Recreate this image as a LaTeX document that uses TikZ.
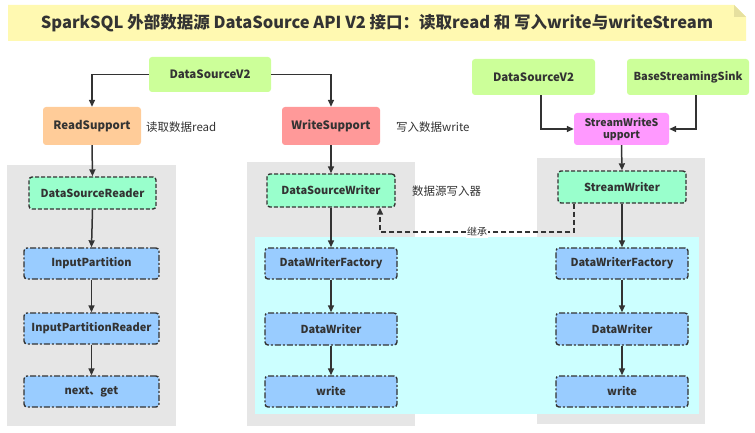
\documentclass[tikz,border=0pt]{standalone}
\usepackage{fontspec}
\setmainfont{Noto Sans CJK SC}
\usetikzlibrary{arrows.meta}
\definecolor{txt}{HTML}{333333}
\definecolor{lime}{HTML}{CCFF99}
\definecolor{orng}{HTML}{FFCC99}
\definecolor{pinkr}{HTML}{FF9999}
\definecolor{magen}{HTML}{FF99FF}
\definecolor{mint}{HTML}{99FFCC}
\definecolor{sky}{HTML}{99CCFF}
\definecolor{panel}{HTML}{E6E6E6}
\definecolor{cyanp}{HTML}{CCFFFF}
\definecolor{banner}{HTML}{FFF9B1}
\definecolor{fold}{HTML}{E6E09F}
\begin{document}
\begin{tikzpicture}[x=1pt,y=-1pt,
  every node/.style={text=txt, inner sep=0pt},
  solidbox/.style={rounded corners=3pt, font=\fontsize{11}{13}\selectfont\bfseries, align=center},
  dashbox/.style={rounded corners=3pt, draw=txt, line width=1.4pt, dash pattern=on 4pt off 2pt, fill=mint, font=\fontsize{11}{13}\selectfont\bfseries},
  dotbox/.style={rounded corners=3pt, draw=txt, line width=1.4pt, dash pattern=on 6pt off 2pt on 2pt off 2pt, fill=sky, font=\fontsize{11}{13}\selectfont\bfseries},
  arr/.style={draw=txt, line width=1.5pt, -{Triangle[length=7pt,width=6pt]}},
  inh/.style={draw=txt, line width=1.5pt, dash pattern=on 5pt off 3pt, -{Triangle[length=7pt,width=6pt]}},
  note/.style={anchor=west, font=\fontsize{11.5}{13}\selectfont}
]
\useasboundingbox (0,0) rectangle (755,433);
% title banner
\fill[banner] (8,5) -- (734,5) -- (746,17) -- (746,41) -- (8,41) -- cycle;
\fill[fold] (734,5) -- (734,17) -- (746,17) -- cycle;
\node[font=\fontsize{16.5}{19}\selectfont\bfseries] (title) at (377,23) {SparkSQL 外部数据源 DataSource API V2 接口：读取read 和 写入write与writeStream};
% panels
\fill[panel] (7,165) rectangle (176,426);
\fill[panel] (247,162) rectangle (415,426);
\fill[panel] (537,158) rectangle (705,424);
\fill[cyanp] (255,237) rectangle (699,414);
% top nodes
\node[solidbox, fill=lime, minimum width=122pt, minimum height=35pt, font=\fontsize{11.5}{13}\selectfont\bfseries] (dsv2) at (210,74.5) {DataSourceV2};
\node[solidbox, fill=orng, minimum width=98pt, minimum height=38pt, font=\fontsize{11.5}{13}\selectfont\bfseries] (rs) at (92,126) {ReadSupport};
\node[solidbox, fill=pinkr, minimum width=98pt, minimum height=38pt, font=\fontsize{11.5}{13}\selectfont\bfseries] (ws) at (331,126) {WriteSupport};
\node[solidbox, fill=lime, minimum width=123pt, minimum height=36pt, font=\fontsize{11.5}{13}\selectfont\bfseries] (dsv2b) at (533.5,77) {DataSourceV2};
\node[solidbox, fill=lime, minimum width=122pt, minimum height=36pt] (bss) at (688,77) {BaseStreamingSink};
\node[solidbox, fill=magen, minimum width=95pt, minimum height=32pt, font=\fontsize{10.5}{12.5}\selectfont\bfseries] (sws) at (621.5,129) {StreamWriteS\\upport};
\node[note] (lr) at (146,127) {读取数据read};
\node[note] (lw) at (396,127) {写入数据write};
\node[note] (lsw) at (412,191) {数据源写入器};
% read column
\node[dashbox, minimum width=127pt, minimum height=32pt] (dsr) at (92.5,193) {DataSourceReader};
\node[dotbox, minimum width=135pt, minimum height=31pt] (ip) at (91.5,263.5) {InputPartition};
\node[dotbox, minimum width=135pt, minimum height=31pt] (ipr) at (91.5,328.5) {InputPartitionReader};
\node[dotbox, minimum width=135pt, minimum height=31pt] (ng) at (91.5,391.5) {next、get};
% write column
\node[dashbox, minimum width=128pt, minimum height=33pt] (dsw) at (331,190.5) {DataSourceWriter};
\node[dotbox, minimum width=132pt, minimum height=31pt] (dwf1) at (331,263.5) {DataWriterFactory};
\node[dotbox, minimum width=132pt, minimum height=32pt] (dw1) at (331,329) {DataWriter};
\node[dotbox, minimum width=132pt, minimum height=31pt] (w1) at (331,391.5) {write};
% stream column
\node[dashbox, minimum width=128pt, minimum height=32pt] (sw) at (622,187) {StreamWriter};
\node[dotbox, minimum width=132pt, minimum height=31pt] (dwf2) at (622,263.5) {DataWriterFactory};
\node[dotbox, minimum width=132pt, minimum height=32pt] (dw2) at (622,329) {DataWriter};
\node[dotbox, minimum width=132pt, minimum height=31pt] (w2) at (622,391.5) {write};
% connectors
\draw[arr] (dsv2.west) -| (rs.north);
\draw[arr] (dsv2.east) -| (ws.north);
\draw[arr] ([xshift=7.5pt]dsv2b.south) |- (sws.west);
\draw[arr] ([xshift=8pt]bss.south) |- (sws.east);
\draw[arr] (sws.south) -- (sw.north);
\draw[arr] (rs.south) -- (dsr.north);
\draw[arr] (dsr.south) -- (ip.north);
\draw[arr] (ip.south) -- (ipr.north);
\draw[arr] (ipr.south) -- (ng.north);
\draw[arr] (ws.south) -- (dsw.north);
\draw[arr] (dsw.south) -- (dwf1.north);
\draw[arr] (dwf1.south) -- (dw1.north);
\draw[arr] (dw1.south) -- (w1.north);
\draw[arr] (sw.south) -- (dwf2.north);
\draw[arr] (dwf2.south) -- (dw2.north);
\draw[arr] (dw2.south) -- (w2.north);
\coordinate (bend) at (380,232);
\draw[inh] ([xshift=-48pt]sw.south) |- (bend) node[pos=0.75, fill=white, inner sep=1pt, font=\fontsize{10}{11}\selectfont] (inhl) {继承} -- ([xshift=49pt]dsw.south);
\end{tikzpicture}
\end{document}
